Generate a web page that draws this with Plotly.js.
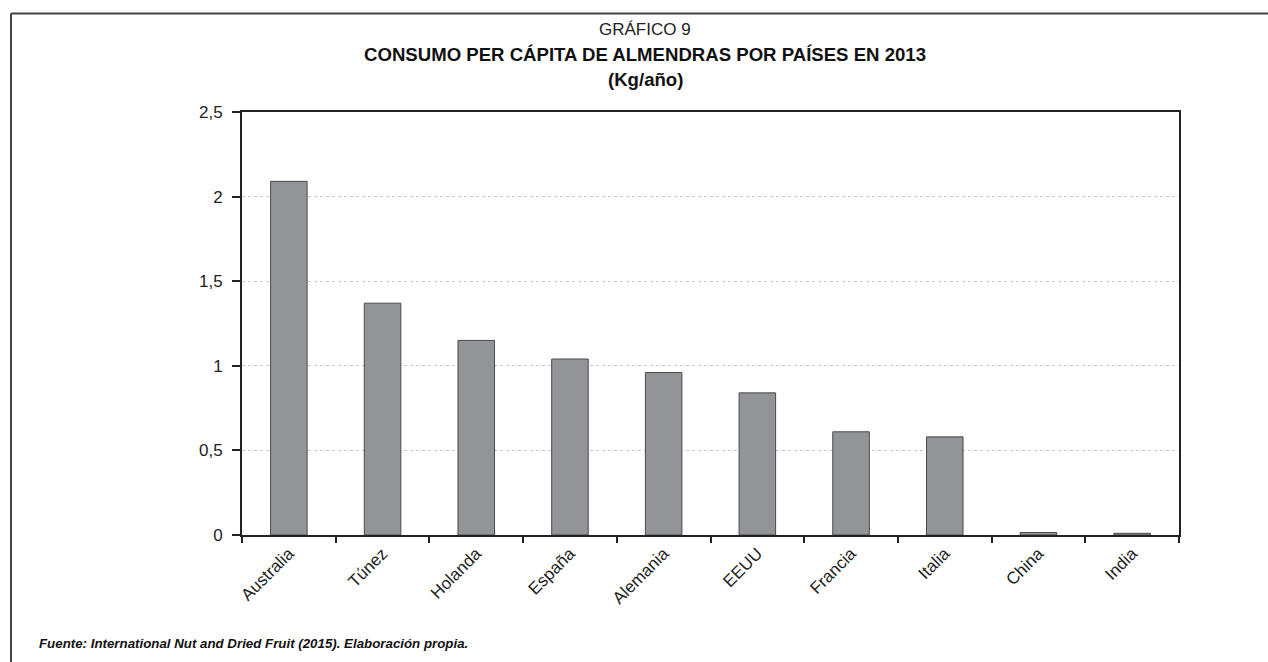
<!DOCTYPE html>
<html>
<head>
<meta charset="utf-8">
<script src="https://cdn.plot.ly/plotly-3.0.1.min.js"></script>
<style>
  html, body { margin: 0; padding: 0; background: #fff; }
  #chart { width: 1268px; height: 662px; }
</style>
</head>
<body>
<div id="chart"></div>
<script>
const countries = ["Australia", "Túnez", "Holanda", "España", "Alemania", "EEUU", "Francia", "Italia", "China", "India"];
const consumoKg = [2.09, 1.37, 1.15, 1.04, 0.96, 0.84, 0.61, 0.58, 0.015, 0.01];

const titleLine1 = "GRÁFICO 9";
const titleLine2 = "CONSUMO PER CÁPITA DE ALMENDRAS POR PAÍSES EN 2013";
const titleLine3 = "(Kg/año)";
const sourceText = "Fuente: International Nut and Dried Fruit (2015). Elaboración propia.";

const FONT = "Liberation Sans, Arial, Helvetica, sans-serif";

const trace = {
  type: "bar",
  x: countries,
  y: consumoKg,
  marker: { color: "#939498", line: { color: "#4a4a4a", width: 1 } },
  hoverinfo: "x+y"
};

const W = 1268, H = 662;
const L = 242, R = W - 1179, T = 112, B = H - 535;
const pw = W - L - R, ph = H - T - B;
const px = x => (x - L) / pw;
const py = y => (H - B - y) / ph;

const layout = {
  width: W, height: H,
  margin: { l: L, r: R, t: T, b: B },
  paper_bgcolor: "#fff",
  plot_bgcolor: "#fff",
  separators: ",.",
  showlegend: false,
  bargap: 0.61,
  font: { family: FONT, color: "#222" },
  xaxis: {
    type: "category",
    tickson: "boundaries",
    ticks: "outside",
    ticklen: 6,
    tickwidth: 2,
    tickcolor: "#222",
    showline: true,
    linecolor: "#222",
    linewidth: 2,
    mirror: true,
    showgrid: false,
    tickangle: -45,
    tickfont: { size: 17, color: "#222", family: FONT },
    fixedrange: true
  },
  yaxis: {
    range: [0, 2.5],
    dtick: 0.5,
    tick0: 0,
    ticks: "outside",
    ticklen: 8,
    tickwidth: 2,
    tickcolor: "#222",
    showline: true,
    linecolor: "#222",
    linewidth: 2,
    mirror: true,
    showgrid: true,
    gridcolor: "#c8c8c8",
    gridwidth: 1,
    griddash: "3px,3px",
    zeroline: false,
    tickfont: { size: 17, color: "#222", family: FONT },
    ticklabelstandoff: 6,
    fixedrange: true
  },
  annotations: [
    { text: titleLine1, xref: "paper", yref: "paper", x: px(645), y: py(30), xanchor: "center", yanchor: "middle", showarrow: false, font: { size: 17, color: "#222", family: FONT } },
    { text: "<b>" + titleLine2 + "</b>", xref: "paper", yref: "paper", x: px(645), y: py(55), xanchor: "center", yanchor: "middle", showarrow: false, font: { size: 18.6, color: "#111", family: FONT } },
    { text: "<b>" + titleLine3 + "</b>", xref: "paper", yref: "paper", x: px(645), y: py(80), xanchor: "center", yanchor: "middle", showarrow: false, font: { size: 18.6, color: "#111", family: FONT } },
    { text: "<b><i>" + sourceText + "</i></b>", xref: "paper", yref: "paper", x: px(37), y: py(643), xanchor: "left", yanchor: "middle", showarrow: false, font: { size: 13.3, color: "#111", family: FONT } }
  ],
  shapes: [
    { type: "line", xref: "paper", yref: "paper", x0: px(11), x1: px(1270), y0: py(13.5), y1: py(13.5), line: { color: "#444", width: 2 } },
    { type: "line", xref: "paper", yref: "paper", x0: px(11), x1: px(11), y0: py(13.5), y1: py(665), line: { color: "#444", width: 2 } }
  ]
};

Plotly.newPlot("chart", [trace], layout, { displayModeBar: false, staticPlot: true });
</script>
</body>
</html>
